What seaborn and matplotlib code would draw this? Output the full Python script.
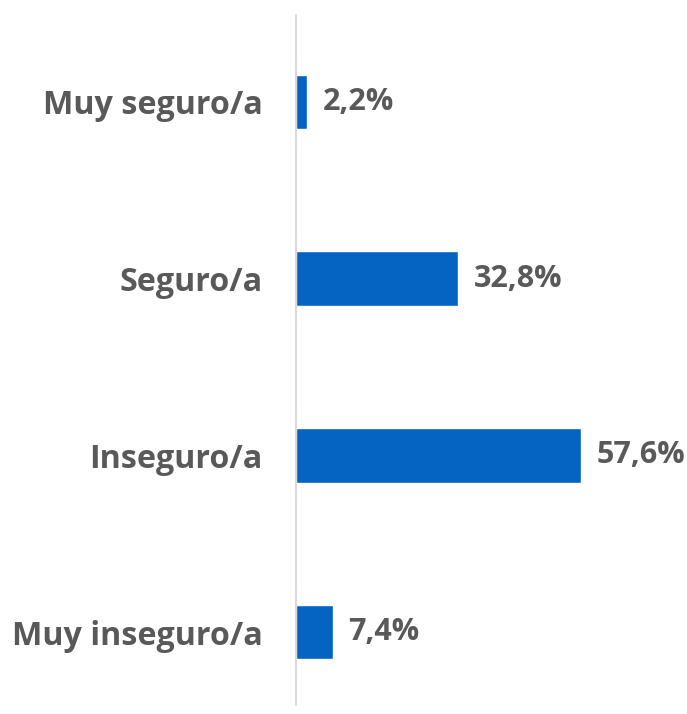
import matplotlib
matplotlib.use('Agg')
import matplotlib.pyplot as plt
import seaborn as sns
import pandas as pd

# Dades
categories = ['Muy seguro/a', 'Seguro/a', 'Inseguro/a', 'Muy inseguro/a']
valors = [2.2, 32.8, 57.6, 7.4]
etiquetes = ['2,2%', '32,8%', '57,6%', '7,4%']

data = pd.DataFrame({'categoria': categories, 'valor': valors})

sns.set_style('white')
plt.rcParams['font.family'] = ['Open Sans', 'DejaVu Sans']

fig = plt.figure(figsize=(6.87, 7.14), dpi=100)
ax = fig.add_axes([0.4309, 0.0126, 0.5044, 0.9664])

sns.barplot(data=data, x='valor', y='categoria', color='#0563C1', width=0.31,
            saturation=1, ax=ax)

ax.set_xlim(0, 70)
ax.set_ylim(3.413, -0.492)

# Etiquetes de valor
for i, (v, t) in enumerate(zip(valors, etiquetes)):
    ax.text(v + 3.2, i, t, va='center', ha='left', fontsize=22,
            fontweight='bold', color='#595959')

ax.set_xlabel('')
ax.set_ylabel('')
ax.set_xticks([])
ax.tick_params(axis='y', length=0, pad=24)
for lbl in ax.get_yticklabels():
    lbl.set_fontsize(23.2)
    lbl.set_fontweight('bold')
    lbl.set_color('#595959')

for s in ['top', 'right', 'bottom']:
    ax.spines[s].set_visible(False)
ax.spines['left'].set_color('#d9d9d9')
ax.spines['left'].set_linewidth(1.5)

fig.savefig('out.png', dpi=100)
